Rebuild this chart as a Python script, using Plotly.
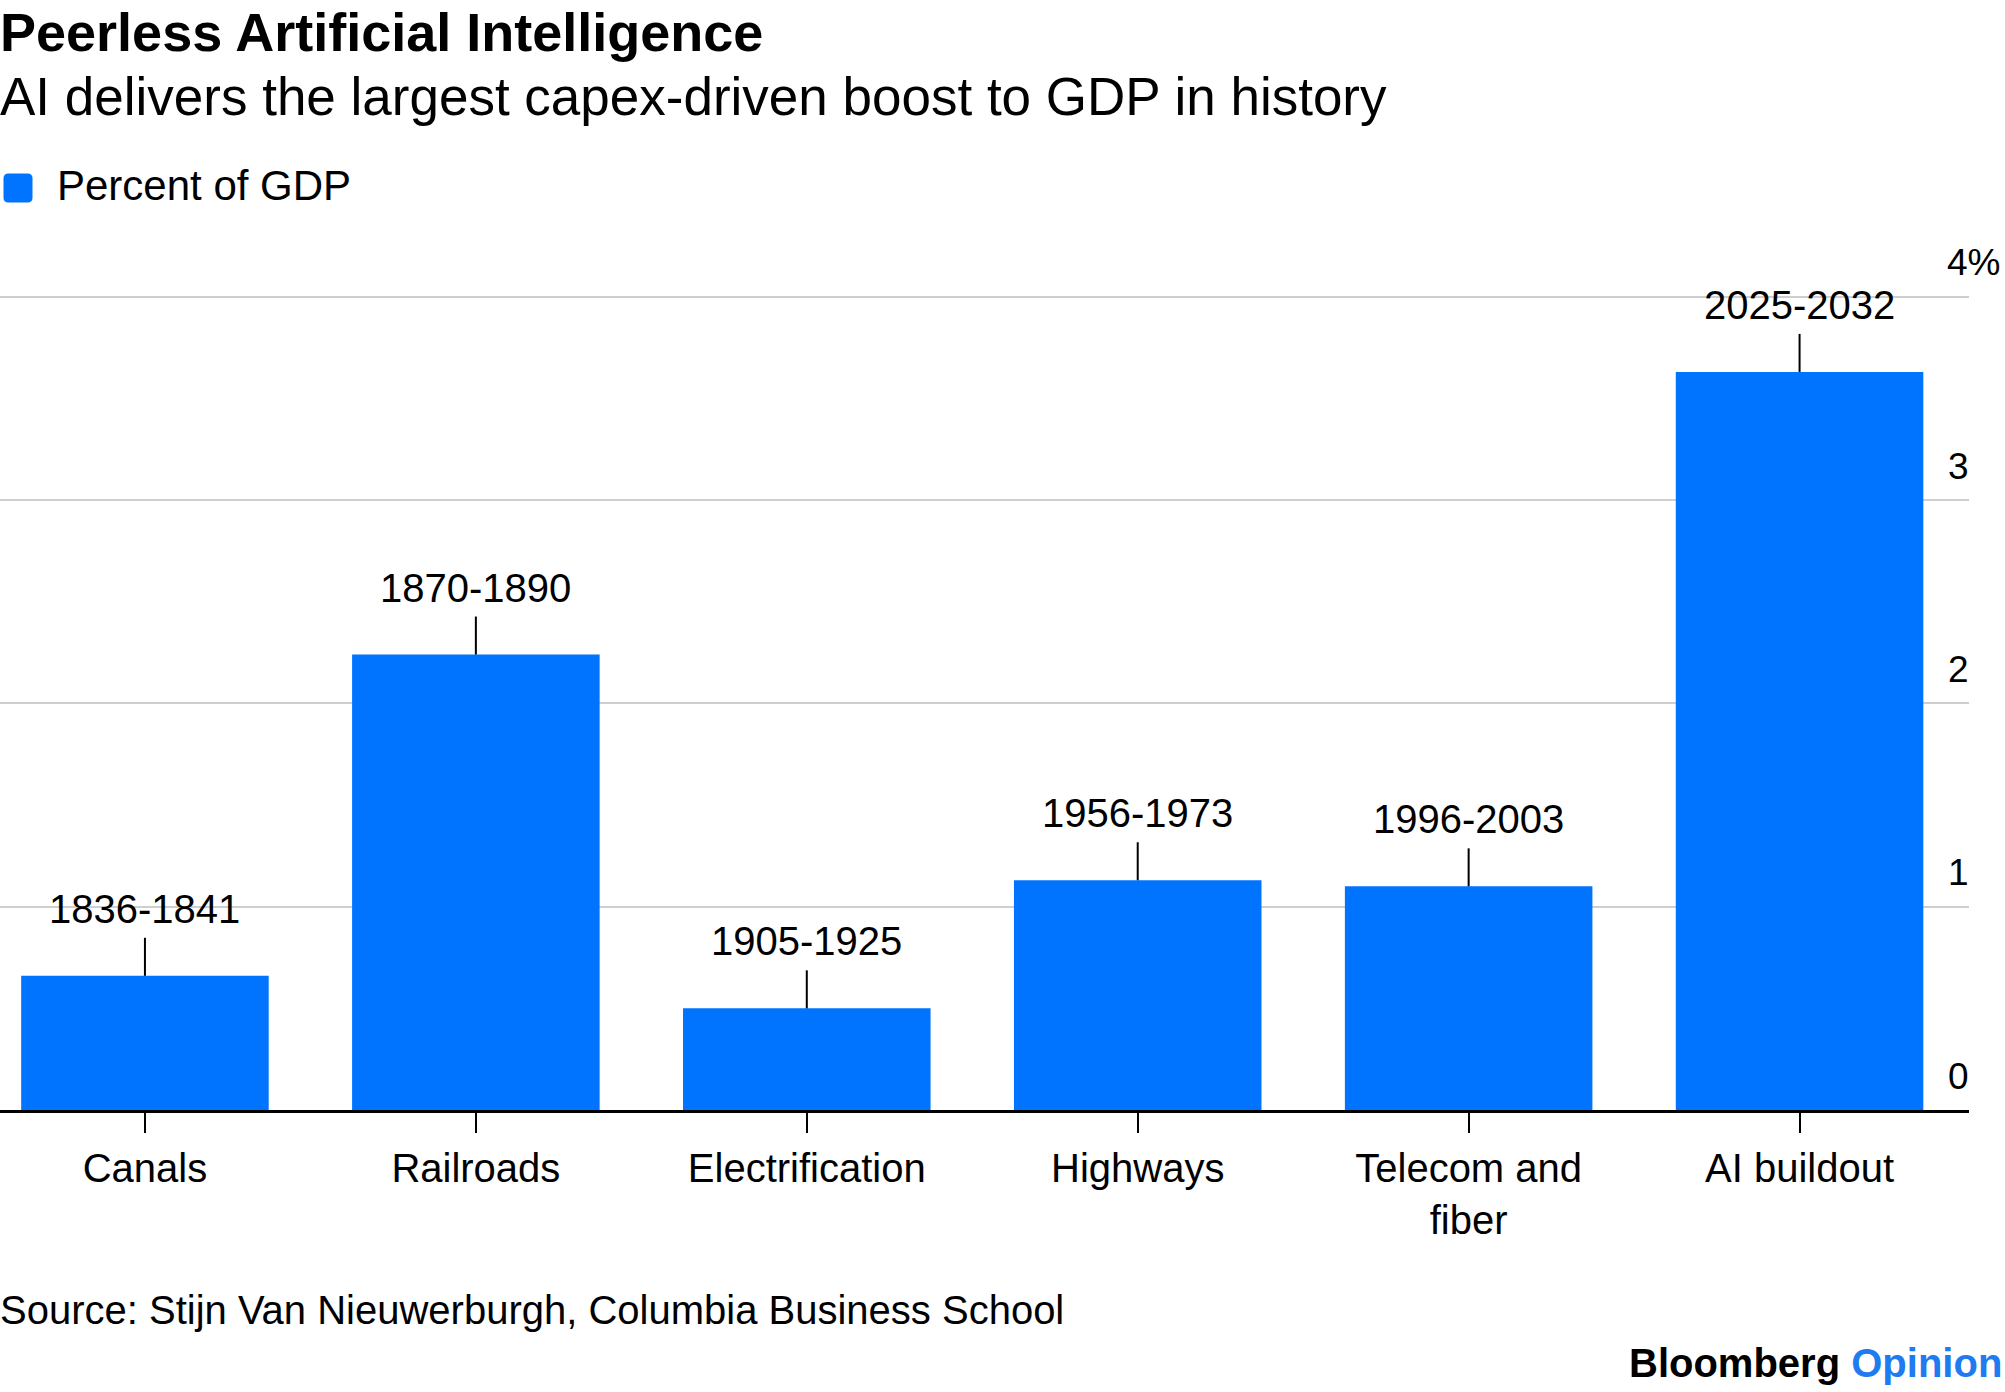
import plotly.graph_objects as go

# ---------------- data ----------------
categories = ["Canals", "Railroads", "Electrification", "Highways", "Telecom and fiber", "AI buildout"]
tick_labels = ["Canals", "Railroads", "Electrification", "Highways", "Telecom and<br>fiber", "AI buildout"]
periods = ["1836-1841", "1870-1890", "1905-1925", "1956-1973", "1996-2003", "2025-2032"]
pct_of_gdp = [0.66, 2.24, 0.50, 1.13, 1.10, 3.63]
y_ticks = [0, 1, 2, 3, 4]

title = "Peerless Artificial Intelligence"
subtitle = "AI delivers the largest capex-driven boost to GDP in history"
legend_label = "Percent of GDP"
source = "Source: Stijn Van Nieuwerburgh, Columbia Business School"

# ---------------- style ----------------
W, H = 2005, 1392
M_L, M_R, M_T, M_B = 0, 36, 256, 282
PLOT_W = W - M_L - M_R
PLOT_H = H - M_T - M_B
FONT = "Liberation Sans, Arial, Helvetica, sans-serif"
BLUE = "#0073FF"


def py(pix):
    """pixel row (from top of page) -> paper y"""
    return (H - M_B - pix) / PLOT_H


def px(pix):
    return (pix - M_L) / PLOT_W


fig = go.Figure()
fig.add_trace(go.Bar(
    x=categories, y=pct_of_gdp, width=0.748,
    marker=dict(color=BLUE, line=dict(width=0)),
    name=legend_label, showlegend=False, hoverinfo="x+y",
))

annotations = []
shapes = []

# period labels with leader lines
for i, (p, v) in enumerate(zip(periods, pct_of_gdp)):
    shapes.append(dict(
        type="line", xref="x", yref="y", x0=i, x1=i,
        ysizemode="pixel", yanchor=v, y0=0, y1=38,
        line=dict(color="black", width=2),
    ))
    annotations.append(dict(
        x=i, y=v, xref="x", yref="y", text=p, showarrow=False,
        xanchor="center", yanchor="middle", yshift=67,
        font=dict(family=FONT, size=40, color="black"),
    ))

# y tick labels (above gridlines, right side)
for t in y_ticks:
    if t == y_ticks[-1]:
        annotations.append(dict(
            x=1, y=t, xref="paper", yref="y", text=f"{t}%", showarrow=False,
            xanchor="left", yanchor="middle", yshift=34, xshift=-24,
            font=dict(family=FONT, size=37, color="black"),
        ))
    else:
        annotations.append(dict(
            x=1, y=t, xref="paper", yref="y", text=f"{t}", showarrow=False,
            xanchor="right", yanchor="middle", yshift=34, xshift=2,
            font=dict(family=FONT, size=37, color="black"),
        ))

# titles
annotations.append(dict(
    x=0, y=py(32), xref="paper", yref="paper", text=f"<b>{title}</b>", showarrow=False,
    xanchor="left", yanchor="middle", xshift=-2,
    font=dict(family=FONT, size=54, color="black"),
))
annotations.append(dict(
    x=0, y=py(96), xref="paper", yref="paper", text=subtitle, showarrow=False,
    xanchor="left", yanchor="middle", xshift=-2,
    font=dict(family=FONT, size=53, color="black"),
))

# legend
r = 5
s = 14.5
shapes.append(dict(
    type="path", xref="paper", yref="paper",
    xsizemode="pixel", ysizemode="pixel", xanchor=px(18), yanchor=py(188),
    path=(f"M {-s+r},{-s} L {s-r},{-s} Q {s},{-s} {s},{-s+r} L {s},{s-r} Q {s},{s} {s-r},{s} "
          f"L {-s+r},{s} Q {-s},{s} {-s},{s-r} L {-s},{-s+r} Q {-s},{-s} {-s+r},{-s} Z"),
    fillcolor=BLUE, line=dict(width=0),
))
annotations.append(dict(
    x=px(55), y=py(186), xref="paper", yref="paper", text=legend_label, showarrow=False,
    xanchor="left", yanchor="middle",
    font=dict(family=FONT, size=42, color="black"),
))

# source & branding
annotations.append(dict(
    x=0, y=py(1310), xref="paper", yref="paper", text=source, showarrow=False,
    xanchor="left", yanchor="middle", xshift=-2,
    font=dict(family=FONT, size=40, color="black"),
))
annotations.append(dict(
    x=px(2004), y=py(1363), xref="paper", yref="paper",
    text="<b>Bloomberg</b> <b><span style='color:#1F7BF0'>Opinion</span></b>", showarrow=False,
    xanchor="right", yanchor="middle",
    font=dict(family=FONT, size=40, color="black"),
))

fig.update_layout(
    width=W, height=H,
    margin=dict(l=M_L, r=M_R, t=M_T, b=M_B, pad=0),
    paper_bgcolor="white", plot_bgcolor="white",
    bargap=0.25,
    font=dict(family=FONT, color="black"),
    xaxis=dict(
        type="category", range=[-0.438, 5.512],
        tickvals=categories, ticktext=tick_labels,
        showline=True, linecolor="black", linewidth=3,
        ticks="outside", ticklen=20, tickwidth=2, tickcolor="black",
        showgrid=False, tickfont=dict(family=FONT, size=40, color="black"),
        ticklabelstandoff=1,
    ),
    yaxis=dict(
        range=[0, 4.2], tickvals=y_ticks, showticklabels=False,
        showgrid=True, gridcolor="#CFCFCF", gridwidth=2,
        zeroline=False, showline=False, ticks="",
    ),
    annotations=annotations, shapes=shapes,
    showlegend=False,
)

fig.write_html(
    "out.html",
    config={"displayModeBar": False},
    post_script="document.body.style.margin='0px';document.body.style.overflow='hidden';",
)
